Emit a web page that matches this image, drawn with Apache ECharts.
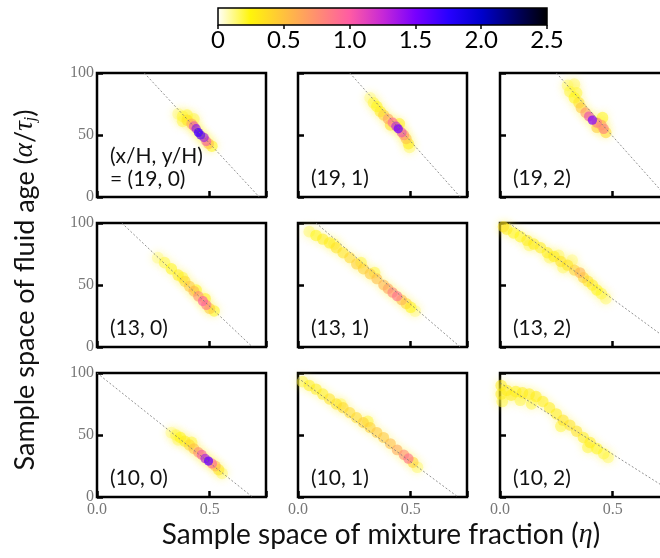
<!DOCTYPE html>
<html>
<head>
<meta charset="utf-8">
<script src="https://cdn.jsdelivr.net/npm/echarts@6/dist/echarts.min.js"></script>
<style>
    html, body { margin: 0; padding: 0; background: #fff; }
    #chart { width: 660px; height: 558px; }
</style>
</head>
<body>
<div id="chart"></div>
<script>
// panel names: (x/H, y/H) location of each sample
const panelNames = ['(19, 0)', '(19, 1)', '(19, 2)', '(13, 0)', '(13, 1)', '(13, 2)', '(10, 0)', '(10, 1)', '(10, 2)'];
const colorbarTicks = [0, 0.5, 1.0, 1.5, 2.0, 2.5];
// reversed gnuplot2 colour map, 0 .. 2.5
const cmapColors = ['#ffffff', '#fff50a', '#ffc23d', '#ff8f70', '#ff5ca3', '#c729d6',
    '#7800ff', '#2800ff', '#0000cc', '#000066', '#000000'];

// joint pdf samples: [eta, alpha/tau_j, density]
const density19_0 = [[0.36, 67, 0.12], [0.38, 65, 0.2], [0.40, 66, 0.2], [0.43, 63, 0.18], [0.38, 61, 0.18],
    [0.40, 62, 0.35], [0.42, 59, 0.7], [0.43, 57, 1.1], [0.44, 55, 1.45], [0.45, 52, 1.65], [0.46, 50, 1.6],
    [0.475, 48, 1.4], [0.485, 45, 1.05], [0.495, 43, 0.6], [0.51, 41, 0.25]];
const density19_1 = [[0.32, 80, 0.12], [0.335, 76, 0.2], [0.35, 73, 0.25], [0.365, 69, 0.3], [0.38, 66, 0.45],
    [0.40, 63, 0.7], [0.42, 60, 1.0], [0.435, 57, 1.3], [0.445, 55, 1.5], [0.46, 52, 1.1], [0.47, 50, 0.8],
    [0.48, 47, 0.55], [0.49, 43, 0.3], [0.495, 40, 0.15], [0.41, 58, 0.4], [0.45, 59, 0.3]];
const density19_2 = [[0.30, 90, 0.15], [0.33, 91, 0.15], [0.31, 85, 0.2], [0.34, 84, 0.2], [0.33, 80, 0.25],
    [0.35, 76, 0.35], [0.36, 72, 0.5], [0.38, 68, 0.75], [0.395, 65, 1.1], [0.41, 62, 1.45], [0.43, 60, 0.9],
    [0.45, 58, 0.75], [0.455, 64, 0.25], [0.46, 55, 0.85], [0.47, 52, 0.4], [0.43, 56, 0.5]];
const density13_0 = [[0.27, 72, 0.12], [0.30, 68, 0.2], [0.33, 63, 0.25], [0.36, 58, 0.3], [0.38, 56, 0.2],
    [0.39, 53, 0.4], [0.41, 49, 0.5], [0.43, 45, 0.6], [0.45, 41, 0.8], [0.47, 37, 1.0], [0.485, 34, 0.9],
    [0.50, 31, 0.5], [0.52, 29, 0.25], [0.44, 46, 0.25], [0.48, 39, 0.3]];
const density13_1 = [[0.05, 93, 0.15], [0.08, 90, 0.25], [0.11, 87, 0.3], [0.14, 84, 0.3], [0.17, 80, 0.35],
    [0.20, 76, 0.35], [0.23, 72, 0.4], [0.26, 67, 0.45], [0.29, 63, 0.45], [0.32, 59, 0.5], [0.35, 55, 0.55],
    [0.38, 50, 0.6], [0.40, 47, 0.7], [0.42, 44, 0.85], [0.44, 41, 0.9], [0.46, 38, 0.6], [0.48, 35, 0.4],
    [0.50, 32, 0.25], [0.52, 29, 0.12], [0.16, 83, 0.15], [0.28, 68, 0.2], [0.34, 60, 0.2]];
const density13_2 = [[0.015, 97, 0.35], [0.03, 95, 0.3], [0.06, 92, 0.25], [0.09, 89, 0.25], [0.12, 86, 0.3],
    [0.13, 82, 0.15], [0.15, 83, 0.3], [0.18, 80, 0.3], [0.21, 76, 0.3], [0.22, 72, 0.15], [0.24, 73, 0.3],
    [0.26, 74, 0.15], [0.27, 69, 0.35], [0.30, 66, 0.35], [0.28, 64, 0.15], [0.32, 70, 0.12], [0.33, 62, 0.45],
    [0.355, 60, 0.6], [0.37, 56, 0.45], [0.39, 53, 0.35], [0.41, 50, 0.3], [0.43, 46, 0.25], [0.45, 43, 0.2],
    [0.47, 39, 0.15]];
const density10_0 = [[0.33, 52, 0.12], [0.35, 50, 0.2], [0.37, 48, 0.25], [0.39, 45, 0.3], [0.41, 42, 0.4],
    [0.43, 39, 0.55], [0.45, 36, 0.8], [0.465, 34, 1.05], [0.48, 31, 1.35], [0.495, 29, 1.55], [0.51, 27, 1.0],
    [0.525, 25, 0.6], [0.54, 22, 0.35], [0.555, 19, 0.15], [0.36, 46, 0.15], [0.42, 44, 0.2]];
const density10_1 = [[0.02, 93, 0.2], [0.05, 90, 0.3], [0.08, 87, 0.3], [0.11, 83, 0.3], [0.14, 79, 0.35],
    [0.17, 75, 0.35], [0.20, 72, 0.4], [0.23, 68, 0.4], [0.26, 64, 0.4], [0.29, 60, 0.45], [0.32, 56, 0.45],
    [0.35, 52, 0.5], [0.38, 48, 0.5], [0.41, 43, 0.55], [0.44, 38, 0.65], [0.47, 34, 0.8], [0.49, 31, 0.9],
    [0.51, 28, 0.45], [0.53, 24, 0.15], [0.19, 75, 0.15], [0.31, 61, 0.2]];
const density10_2 = [[0.005, 90, 0.3], [0.005, 83, 0.3], [0.01, 77, 0.2], [0.03, 86, 0.3], [0.05, 82, 0.3],
    [0.07, 85, 0.25], [0.10, 84, 0.3], [0.13, 83, 0.3], [0.16, 81, 0.3], [0.19, 77, 0.3], [0.09, 78, 0.2],
    [0.14, 75, 0.2], [0.22, 72, 0.3], [0.25, 67, 0.3], [0.28, 62, 0.35], [0.27, 57, 0.2], [0.31, 58, 0.35],
    [0.34, 53, 0.35], [0.37, 48, 0.3], [0.40, 44, 0.3], [0.39, 40, 0.2], [0.43, 39, 0.25], [0.46, 35, 0.2],
    [0.48, 32, 0.15]];

// dotted guide line of each panel: [eta, alpha] end points
const guide19_0 = [[0.21, 100], [0.72, 0]];
const guide19_1 = [[0.23, 100], [0.72, 0]];
const guide19_2 = [[0.25, 100], [0.74, 0]];
const guide13_0 = [[0.11, 100], [0.69, 0]];
const guide13_1 = [[0.08, 100], [0.72, 0]];
const guide13_2 = [[0.04, 100], [0.79, 0]];
const guide10_0 = [[0.0, 100], [0.69, 0]];
const guide10_1 = [[0.0, 96], [0.71, 0]];
const guide10_2 = [[0.0, 92], [0.80, 0]];

const densities = [density19_0, density19_1, density19_2, density13_0, density13_1, density13_2,
    density10_0, density10_1, density10_2];
const guides = [guide19_0, guide19_1, guide19_2, guide13_0, guide13_1, guide13_2, guide10_0, guide10_1, guide10_2];

// layout
const COL_LEFT = [97, 298, 500];
const ROW_TOP = [73, 223, 373];
const PW = 169;
const PH = 124;
const SERIF = '"Liberation Serif", "DejaVu Serif", serif';
const SANS = 'Lato, "Open Sans", sans-serif';

const chart = echarts.init(document.getElementById('chart'));

const grids = [];
const xAxes = [];
const yAxes = [];
const series = [];
const graphics = [];
const scatterIdx = [];

panelNames.forEach(function (name, i) {
    const r = Math.floor(i / 3);
    const c = i % 3;
    grids.push({
        left: COL_LEFT[c], top: ROW_TOP[r], width: PW, height: PH,
        outerBoundsMode: 'none', containLabel: false,
        show: true, borderColor: '#000', borderWidth: 2.5, backgroundColor: 'transparent'
    });
    xAxes.push({
        type: 'value', gridIndex: i, min: 0, max: 0.75, interval: 0.5,
        axisLine: { show: false }, splitLine: { show: false },
        axisTick: { inside: true, length: 6, lineStyle: { color: '#000', width: 2.5 } },
        axisLabel: {
            show: r === 2, margin: 5, fontFamily: SERIF, fontSize: 16, color: '#777',
            formatter: function (v) { return v === 0 ? '0.0' : (v === 0.5 ? '0.5' : ''); }
        }
    });
    yAxes.push({
        type: 'value', gridIndex: i, min: 0, max: 100, interval: 50,
        axisLine: { show: false }, splitLine: { show: false },
        axisTick: { inside: true, length: 6, lineStyle: { color: '#000', width: 2.5 } },
        axisLabel: { show: c === 0, margin: 3, fontFamily: SERIF, fontSize: 16, color: '#777' }
    });
    scatterIdx.push(series.length);
    series.push({
        type: 'scatter', xAxisIndex: i, yAxisIndex: i, clip: true, silent: true,
        data: densities[i].slice().sort(function (a, b) { return a[2] - b[2]; }),
        symbolSize: function (d) { return Math.max(8, 12 - 1.8 * d[2]); },
        itemStyle: { shadowBlur: 8, shadowColor: 'rgba(255,240,40,0.7)' },
        z: 2
    });
    series.push({
        type: 'line', xAxisIndex: i, yAxisIndex: i, clip: true, silent: true,
        data: guides[i], symbol: 'none',
        lineStyle: { color: '#777', width: 0.8, type: [2, 2] },
        z: 3
    });

    const left = COL_LEFT[c] + 13;
    const bottom = ROW_TOP[r] + PH;
    if (i === 0) {
        graphics.push({
            type: 'text', x: left, y: bottom - 41, z: 10,
            style: { text: '(x/H, y/H)', font: '21px ' + SANS, fill: '#111', textVerticalAlign: 'middle' }
        });
        graphics.push({
            type: 'text', x: left, y: bottom - 18, z: 10,
            style: { text: '= ' + name, font: '21px ' + SANS, fill: '#111', textVerticalAlign: 'middle' }
        });
    } else {
        graphics.push({
            type: 'text', x: left, y: bottom - 19, z: 10,
            style: { text: name, font: '21px ' + SANS, fill: '#111', textVerticalAlign: 'middle' }
        });
    }
});

// colour bar
const cbIndex = grids.length;
grids.push({
    left: 218, top: 8, width: 329, height: 17, outerBoundsMode: 'none', containLabel: false,
    show: true, borderColor: '#000', borderWidth: 1.5,
    backgroundColor: new echarts.graphic.LinearGradient(0, 0, 1, 0, cmapColors.map(function (col, k) {
        return { offset: k / (cmapColors.length - 1), color: col };
    }))
});
xAxes.push({
    type: 'value', gridIndex: cbIndex, min: colorbarTicks[0], max: colorbarTicks[colorbarTicks.length - 1],
    interval: 0.5, position: 'bottom',
    axisLine: { show: false }, splitLine: { show: false },
    axisTick: { length: 4, lineStyle: { color: '#000', width: 1.5 } },
    axisLabel: {
        margin: 3, fontFamily: SANS, fontSize: 24, color: '#000',
        formatter: function (v) { return v === 0 ? '0' : v.toFixed(1); }
    }
});
yAxes.push({ type: 'value', gridIndex: cbIndex, min: 0, max: 1, show: false });

// axis titles
graphics.push({
    type: 'text', x: 25, y: 290, rotation: Math.PI / 2, z: 10,
    style: {
        text: 'Sample space of fluid age ({i|α}/{i|τ}{s|j})',
        font: '27px ' + SANS, fill: '#111', textAlign: 'center', textVerticalAlign: 'middle',
        rich: {
            i: { fontFamily: SERIF, fontStyle: 'italic', fontSize: 27, fill: '#111' },
            s: { fontFamily: SERIF, fontStyle: 'italic', fontSize: 16, fill: '#111', verticalAlign: 'bottom', padding: [10, 0, 0, 0] }
        }
    }
});
graphics.push({
    type: 'text', x: 381, y: 535, z: 10,
    style: {
        text: 'Sample space of mixture fraction ({i|η})',
        font: '28px ' + SANS, fill: '#111', textAlign: 'center', textVerticalAlign: 'middle',
        rich: { i: { fontFamily: SERIF, fontStyle: 'italic', fontSize: 28, fill: '#111' } }
    }
});

chart.setOption({
    animation: false,
    backgroundColor: '#fff',
    grid: grids,
    xAxis: xAxes,
    yAxis: yAxes,
    visualMap: {
        type: 'continuous', show: false, min: 0, max: 2.5, dimension: 2,
        seriesIndex: scatterIdx, inRange: { color: cmapColors, opacity: [0.45, 0.95] }
    },
    series: series,
    graphic: graphics
});
</script>
</body>
</html>
